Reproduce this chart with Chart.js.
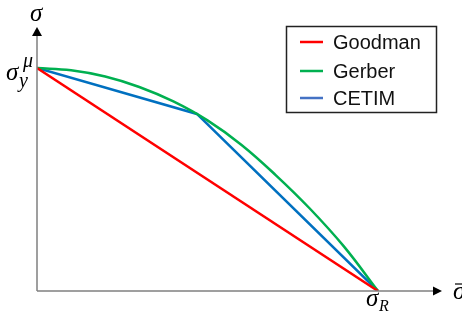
<!DOCTYPE html>
<html>
<head>
<meta charset="utf-8">
<script src="https://cdn.jsdelivr.net/npm/chart.js@4/dist/chart.umd.min.js"></script>
<style>
html,body{margin:0;padding:0;background:#fff;}
#wrap{width:462px;height:313px;position:relative;}
</style>
</head>
<body>
<div id="wrap"><canvas id="c" width="462" height="313"></canvas></div>
<script>
// Normalised mean stress (sigma_m / sigma_R) and amplitude (sigma_a / sigma_y^mu)
const seriesNames = ["Goodman", "Gerber", "CETIM"];
const goodmanX = [0, 1];
const goodmanY = [1, 0];
const gerberX = [0, 0.1, 0.2, 0.3, 0.4, 0.5, 0.6, 0.7, 0.8, 0.9, 1.0];
const gerberY = [1, 0.99, 0.962, 0.915, 0.85, 0.765, 0.655, 0.52, 0.37, 0.20, 0];
const cetimX = [0, 0.469, 1];
const cetimY = [1, 0.794, 0];
const colors = ["#ff0000", "#00b050", "#0070c0"];
const legendColors = ["#ff0000", "#00b050", "#4472c4"];
const axisLabels = {y: "σ", yTop: "σ", yTopSub: "y", yTopSup: "μ", xEnd: "σ", xEndSub: "R", x: "σ"};

function pts(xs, ys){ return xs.map((x,i)=>({x:x, y:ys[i]})); }

const decor = {
  id: "decor",
  afterDraw(chart){
    const ctx = chart.ctx;
    const xs = chart.scales.x, ys = chart.scales.y;
    const x0 = xs.getPixelForValue(0), y0 = ys.getPixelForValue(0);
    const yTop = chart.chartArea.top, xRight = chart.chartArea.right;
    ctx.save();
    // axes
    ctx.strokeStyle = "#808080";
    ctx.lineWidth = 1.5;
    ctx.beginPath();
    ctx.moveTo(x0, y0); ctx.lineTo(x0, yTop + 6);
    ctx.moveTo(x0, y0); ctx.lineTo(xRight - 6, y0);
    ctx.stroke();
    ctx.fillStyle = "#000";
    ctx.beginPath();
    ctx.moveTo(x0, yTop); ctx.lineTo(x0 - 5, yTop + 9); ctx.lineTo(x0 + 5, yTop + 9); ctx.closePath();
    ctx.fill();
    ctx.beginPath();
    ctx.moveTo(xRight + 2, y0); ctx.lineTo(xRight - 7, y0 - 4.5); ctx.lineTo(xRight - 7, y0 + 4.5); ctx.closePath();
    ctx.fill();
    // axis labels
    ctx.fillStyle = "#000";
    ctx.textBaseline = "alphabetic";
    ctx.textAlign = "left";
    ctx.font = "italic 25px 'Liberation Serif'";
    ctx.fillText(axisLabels.y, x0 - 7, 21);
    const yS = ys.getPixelForValue(1);
    ctx.fillText(axisLabels.yTop, 6, yS + 12);
    ctx.font = "italic 20px 'Liberation Serif'";
    ctx.fillText(axisLabels.yTopSub, 19, yS + 19);
    ctx.fillText(axisLabels.yTopSup, 23, yS - 1);
    const xR = xs.getPixelForValue(1);
    ctx.font = "italic 25px 'Liberation Serif'";
    ctx.fillText(axisLabels.xEnd, xR - 12, y0 + 15);
    ctx.font = "italic 16px 'Liberation Serif'";
    ctx.fillText(axisLabels.xEndSub, xR + 1, y0 + 20);
    ctx.font = "italic 25px 'Liberation Serif'";
    ctx.fillText(axisLabels.x, 453, y0 + 8);
    ctx.lineWidth = 1.2;
    ctx.strokeStyle = "#000";
    ctx.beginPath(); ctx.moveTo(455, y0 - 7); ctx.lineTo(462, y0 - 7); ctx.stroke();
    // legend
    ctx.lineWidth = 1.5;
    ctx.strokeStyle = "#222";
    ctx.strokeRect(286.5, 26.5, 150, 86);
    ctx.font = "20px 'Liberation Sans'";
    const rowY = [42, 71, 98];
    chart.data.datasets.forEach((d, i) => {
      ctx.strokeStyle = legendColors[i];
      ctx.lineWidth = 2.5;
      ctx.beginPath(); ctx.moveTo(300, rowY[i]); ctx.lineTo(323, rowY[i]); ctx.stroke();
      ctx.fillStyle = "#111";
      ctx.textBaseline = "middle";
      ctx.fillText(d.label, 333, rowY[i] + 1);
    });
    ctx.restore();
  }
};

new Chart(document.getElementById("c"), {
  type: "line",
  data: {
    datasets: [
      {label: seriesNames[0], data: pts(goodmanX, goodmanY), borderColor: colors[0]},
      {label: seriesNames[1], data: pts(gerberX, gerberY), borderColor: colors[1], tension: 0.4},
      {label: seriesNames[2], data: pts(cetimX, cetimY), borderColor: colors[2]}
    ]
  },
  options: {
    responsive: false,
    animation: false,
    devicePixelRatio: 1,
    layout: {padding: {left: 37, right: 22, top: 27, bottom: 22}},
    elements: {point: {radius: 0}, line: {borderWidth: 2.5, tension: 0}},
    plugins: {legend: {display: false}, tooltip: {enabled: false}},
    scales: {
      x: {type: "linear", min: 0, max: 1.182, display: false},
      y: {type: "linear", min: 0, max: 1.184, display: false}
    }
  },
  plugins: [decor]
});
</script>
</body>
</html>
